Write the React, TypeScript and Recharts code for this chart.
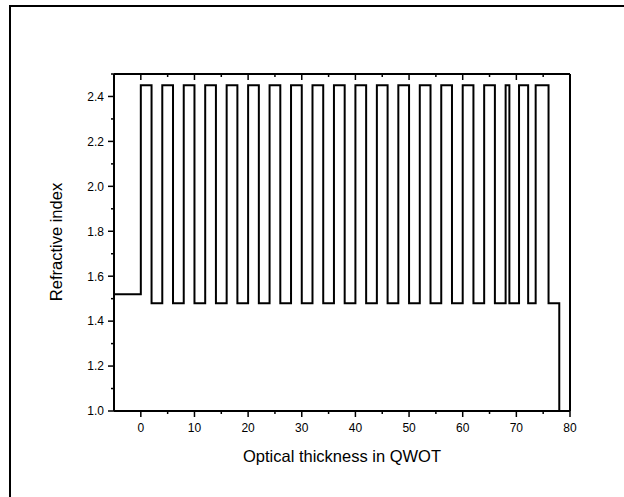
import React from 'react';
import { LineChart, Line, XAxis, YAxis } from 'recharts';

// Layer start positions (optical thickness, QWOT) and refractive index of each layer
const layerStart = [
  -5,
  0, 2, 4, 6, 8, 10, 12, 14, 16, 18, 20, 22, 24, 26, 28, 30, 32, 34,
  36, 38, 40, 42, 44, 46, 48, 50, 52, 54, 56, 58, 60, 62, 64, 66,
  68, 68.7, 70.5, 72.2, 73.6, 76,
  78, 80,
];
const layerIndex = [
  1.52,
  2.45, 1.48, 2.45, 1.48, 2.45, 1.48, 2.45, 1.48, 2.45, 1.48, 2.45, 1.48, 2.45, 1.48, 2.45, 1.48, 2.45, 1.48,
  2.45, 1.48, 2.45, 1.48, 2.45, 1.48, 2.45, 1.48, 2.45, 1.48, 2.45, 1.48, 2.45, 1.48, 2.45, 1.48,
  2.45, 1.48, 2.45, 1.48, 2.45, 1.48,
  1.0, 1.0,
];

const xTicks = [0, 5, 10, 15, 20, 25, 30, 35, 40, 45, 50, 55, 60, 65, 70, 75, 80];
const xMajor = [0, 10, 20, 30, 40, 50, 60, 70, 80];
const yTicks = [1.0, 1.1, 1.2, 1.3, 1.4, 1.5, 1.6, 1.7, 1.8, 1.9, 2.0, 2.1, 2.2, 2.3, 2.4, 2.5];
const yMajor = [1.0, 1.2, 1.4, 1.6, 1.8, 2.0, 2.2, 2.4];

const xTitle = 'Optical thickness in QWOT';
const yTitle = 'Refractive index';

const data = layerStart.map((x, i) => ({ x, n: layerIndex[i] }));

const FONT = '"Liberation Sans", Arial, sans-serif';
const MAJ = 6;
const MIN = 3;

const isMajorX = (v: number) => xMajor.some((m) => Math.abs(m - v) < 1e-6);
const isMajorY = (v: number) => yMajor.some((m) => Math.abs(m - v) < 1e-6);

const BottomTick = (props: any) => {
  const { x, y, payload } = props;
  const v = payload.value;
  const major = isMajorX(v);
  return (
    <g>
      <line x1={x} x2={x} y1={y} y2={y + (major ? MAJ : MIN)} stroke="#000" strokeWidth={1.5} />
      {major && (
        <text x={x} y={y + 21} textAnchor="middle" fontSize={12} fontFamily={FONT} fill="#000">
          {v}
        </text>
      )}
    </g>
  );
};

const TopTick = (props: any) => {
  const { x, y, payload } = props;
  const major = isMajorX(payload.value);
  return <line x1={x} x2={x} y1={y} y2={y + (major ? MAJ : MIN)} stroke="#000" strokeWidth={1.5} />;
};

const LeftTick = (props: any) => {
  const { x, y, payload } = props;
  const v = payload.value;
  const major = isMajorY(v);
  return (
    <g>
      <line x1={x} x2={x - (major ? MAJ : MIN)} y1={y} y2={y} stroke="#000" strokeWidth={1.5} />
      {major && (
        <text x={x - 10} y={y} dy="0.36em" textAnchor="end" fontSize={12} fontFamily={FONT} fill="#000">
          {v.toFixed(1)}
        </text>
      )}
    </g>
  );
};

const RightTick = (props: any) => {
  const { x, y, payload } = props;
  const major = isMajorY(payload.value);
  return <line x1={x} x2={x - (major ? MAJ : MIN)} y1={y} y2={y} stroke="#000" strokeWidth={1.5} />;
};

export default function App() {
  return (
    <div style={{ position: 'absolute', left: 0, top: 0, width: 624, height: 497, overflow: 'hidden', background: '#fff' }}>
      <div
        style={{
          position: 'absolute',
          left: 9,
          top: 5,
          width: 700,
          height: 600,
          border: '2px solid #000',
        }}
      />
      <div style={{ position: 'absolute', left: 0, top: 0 }}>
        <LineChart width={624} height={497} data={data} margin={{ top: 64, right: 44, bottom: 46, left: 64 }}>
          <XAxis
            xAxisId="b"
            dataKey="x"
            type="number"
            domain={[-5, 80]}
            ticks={xTicks}
            interval={0}
            height={40}
            tickSize={0}
            tickMargin={0}
            tickLine={false}
            axisLine={{ stroke: '#000', strokeWidth: 2 }}
            tick={<BottomTick />}
          />
          <XAxis
            xAxisId="t"
            orientation="top"
            dataKey="x"
            type="number"
            domain={[-5, 80]}
            ticks={xTicks}
            interval={0}
            height={10}
            tickSize={0}
            tickMargin={0}
            tickLine={false}
            axisLine={{ stroke: '#000', strokeWidth: 2 }}
            tick={<TopTick />}
          />
          <YAxis
            yAxisId="l"
            type="number"
            domain={[1, 2.5]}
            ticks={yTicks}
            interval={0}
            width={50}
            tickSize={0}
            tickMargin={0}
            tickLine={false}
            axisLine={{ stroke: '#000', strokeWidth: 2 }}
            tick={<LeftTick />}
          />
          <YAxis
            yAxisId="r"
            orientation="right"
            type="number"
            domain={[1, 2.5]}
            ticks={yTicks}
            interval={0}
            width={10}
            tickSize={0}
            tickMargin={0}
            tickLine={false}
            axisLine={{ stroke: '#000', strokeWidth: 2 }}
            tick={<RightTick />}
          />
          <Line
            xAxisId="b"
            yAxisId="l"
            type="stepAfter"
            dataKey="n"
            stroke="#000"
            strokeWidth={2}
            dot={false}
            isAnimationActive={false}
          />
        </LineChart>
      </div>
      <div
        style={{
          position: 'absolute',
          left: 114,
          width: 456,
          top: 446,
          textAlign: 'center',
          fontFamily: FONT,
          fontSize: 16.5,
          lineHeight: '20px',
          color: '#000',
        }}
      >
        {xTitle}
      </div>
      <div
        style={{
          position: 'absolute',
          left: 56,
          top: 242,
          transform: 'translate(-50%, -50%) rotate(-90deg)',
          whiteSpace: 'nowrap',
          fontFamily: FONT,
          fontSize: 16.5,
          lineHeight: '20px',
          color: '#000',
        }}
      >
        {yTitle}
      </div>
    </div>
  );
}
